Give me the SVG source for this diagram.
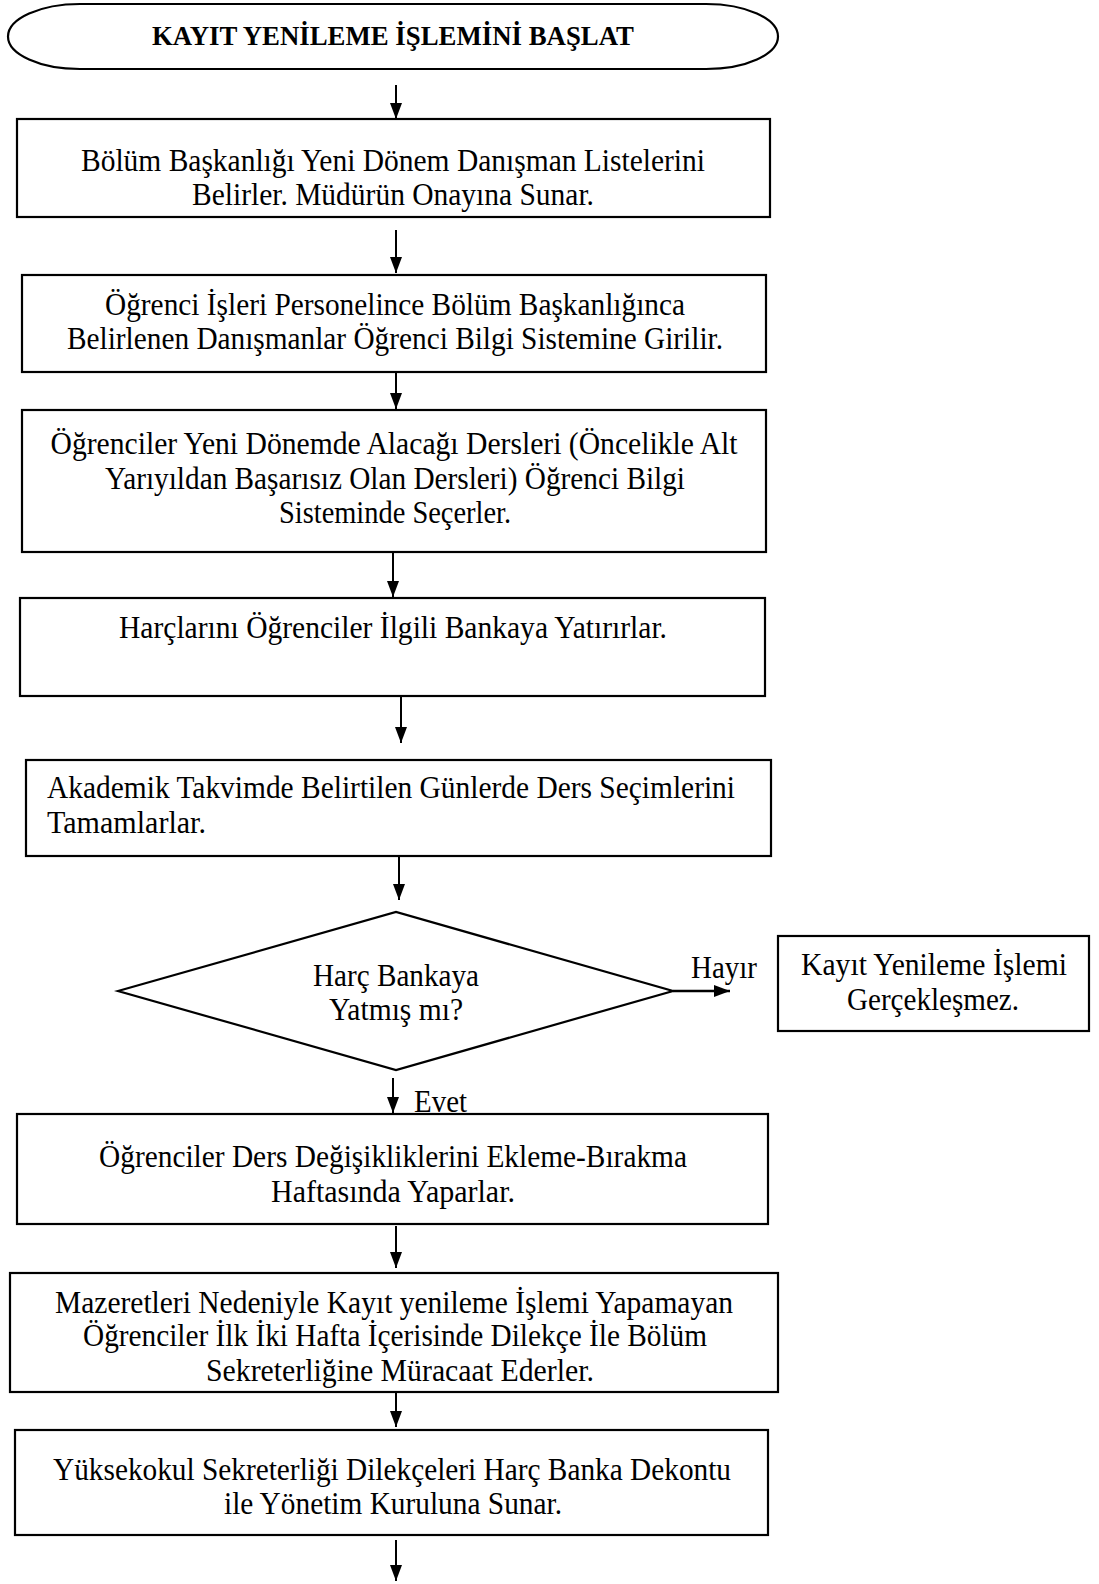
<svg xmlns="http://www.w3.org/2000/svg" width="1099" height="1584" viewBox="0 0 1099 1584">
<defs>
<marker id="ah" markerUnits="userSpaceOnUse" markerWidth="17" markerHeight="13" refX="16" refY="6" orient="auto">
<path d="M0,0 L16,6 L0,12 Z" fill="#000"/>
</marker>
<style>
.box{fill:#fff;stroke:#000;stroke-width:2.2}
.t{font-family:"Liberation Serif","Times New Roman",serif;font-size:31px;fill:#000;text-anchor:middle}
.tl{text-anchor:start}
.title{font-family:"Liberation Serif","Times New Roman",serif;font-size:27.5px;font-weight:bold;fill:#000;text-anchor:middle}
.c{stroke:#000;stroke-width:2;fill:none;marker-end:url(#ah)}
</style>
</defs>
<rect width="1099" height="1584" fill="#fff"/>
<g id="start">
<path class="box" d="M80,4 H706 A72,32.5 0 0 1 706,69 H80 A72,32.5 0 0 1 80,4 Z"/>
<text class="title" x="393" y="45" textLength="482" lengthAdjust="spacingAndGlyphs">KAYIT YENİLEME İŞLEMİNİ BAŞLAT</text>
</g>
<g id="n1">
<rect class="box" x="17" y="119" width="753" height="98"/>
<text class="t" x="393" y="171" textLength="624" lengthAdjust="spacingAndGlyphs">Bölüm Başkanlığı Yeni Dönem Danışman Listelerini</text>
<text class="t" x="393" y="205" textLength="402" lengthAdjust="spacingAndGlyphs">Belirler. Müdürün Onayına Sunar.</text>
</g>
<g id="n2">
<rect class="box" x="22" y="275" width="744" height="97"/>
<text class="t" x="395" y="315" textLength="580" lengthAdjust="spacingAndGlyphs">Öğrenci İşleri Personelince Bölüm Başkanlığınca</text>
<text class="t" x="395" y="349" textLength="656" lengthAdjust="spacingAndGlyphs">Belirlenen Danışmanlar Öğrenci Bilgi Sistemine Girilir.</text>
</g>
<g id="n3">
<rect class="box" x="22" y="410" width="744" height="142"/>
<text class="t" x="394" y="454" textLength="687" lengthAdjust="spacingAndGlyphs">Öğrenciler Yeni Dönemde Alacağı Dersleri (Öncelikle Alt</text>
<text class="t" x="395" y="489" textLength="580" lengthAdjust="spacingAndGlyphs">Yarıyıldan Başarısız Olan Dersleri) Öğrenci Bilgi</text>
<text class="t" x="395" y="523" textLength="232" lengthAdjust="spacingAndGlyphs">Sisteminde Seçerler.</text>
</g>
<g id="n4">
<rect class="box" x="20" y="598" width="745" height="98"/>
<text class="t" x="393" y="638" textLength="548" lengthAdjust="spacingAndGlyphs">Harçlarını Öğrenciler İlgili Bankaya Yatırırlar.</text>
</g>
<g id="n5">
<rect class="box" x="26" y="760" width="745" height="96"/>
<text class="t tl" x="47" y="798" textLength="688" lengthAdjust="spacingAndGlyphs">Akademik Takvimde Belirtilen Günlerde Ders Seçimlerini</text>
<text class="t tl" x="47" y="833" textLength="159" lengthAdjust="spacingAndGlyphs">Tamamlarlar.</text>
</g>
<g id="decision">
<polygon class="box" points="118,991 396,912 673,991 396,1070"/>
<text class="t" x="396" y="986" textLength="166" lengthAdjust="spacingAndGlyphs">Harç Bankaya</text>
<text class="t" x="396" y="1020" textLength="134" lengthAdjust="spacingAndGlyphs">Yatmış mı?</text>
</g>
<g id="fail">
<rect class="box" x="778" y="936" width="311" height="95"/>
<text class="t" x="934" y="975" textLength="266" lengthAdjust="spacingAndGlyphs">Kayıt Yenileme İşlemi</text>
<text class="t" x="933" y="1010" textLength="172" lengthAdjust="spacingAndGlyphs">Gerçekleşmez.</text>
</g>
<g id="n6">
<rect class="box" x="17" y="1114" width="751" height="110"/>
<text class="t" x="393" y="1167" textLength="588" lengthAdjust="spacingAndGlyphs">Öğrenciler Ders Değişikliklerini Ekleme-Bırakma</text>
<text class="t" x="393" y="1202" textLength="244" lengthAdjust="spacingAndGlyphs">Haftasında Yaparlar.</text>
</g>
<g id="n7">
<rect class="box" x="10" y="1273" width="768" height="119"/>
<text class="t" x="394" y="1313" textLength="678" lengthAdjust="spacingAndGlyphs">Mazeretleri Nedeniyle Kayıt yenileme İşlemi Yapamayan</text>
<text class="t" x="395" y="1346" textLength="624" lengthAdjust="spacingAndGlyphs">Öğrenciler İlk İki Hafta İçerisinde Dilekçe İle Bölüm</text>
<text class="t" x="400" y="1381" textLength="388" lengthAdjust="spacingAndGlyphs">Sekreterliğine Müracaat Ederler.</text>
</g>
<g id="n8">
<rect class="box" x="15" y="1430" width="753" height="105"/>
<text class="t" x="392" y="1480" textLength="678" lengthAdjust="spacingAndGlyphs">Yüksekokul Sekreterliği Dilekçeleri Harç Banka Dekontu</text>
<text class="t" x="393" y="1514" textLength="338" lengthAdjust="spacingAndGlyphs">ile Yönetim Kuruluna Sunar.</text>
</g>
<g id="connectors">
<line class="c" x1="396" y1="85" x2="396" y2="119"/>
<line class="c" x1="396" y1="230" x2="396" y2="273"/>
<line class="c" x1="396" y1="372" x2="396" y2="409"/>
<line class="c" x1="393" y1="552" x2="393" y2="597"/>
<line class="c" x1="401" y1="697" x2="401" y2="743"/>
<line class="c" x1="399" y1="857" x2="399" y2="900"/>
<line class="c" x1="673" y1="991" x2="730" y2="991" style="stroke-width:2.5"/>
<line class="c" x1="393" y1="1078" x2="393" y2="1113"/>
<line class="c" x1="396" y1="1226" x2="396" y2="1268"/>
<line class="c" x1="396" y1="1392" x2="396" y2="1427"/>
<line class="c" x1="396" y1="1540" x2="396" y2="1581"/>
<text class="t tl" x="691" y="978" textLength="66" lengthAdjust="spacingAndGlyphs">Hayır</text>
<text class="t tl" x="414" y="1112" textLength="53" lengthAdjust="spacingAndGlyphs">Evet</text>
</g>
</svg>
